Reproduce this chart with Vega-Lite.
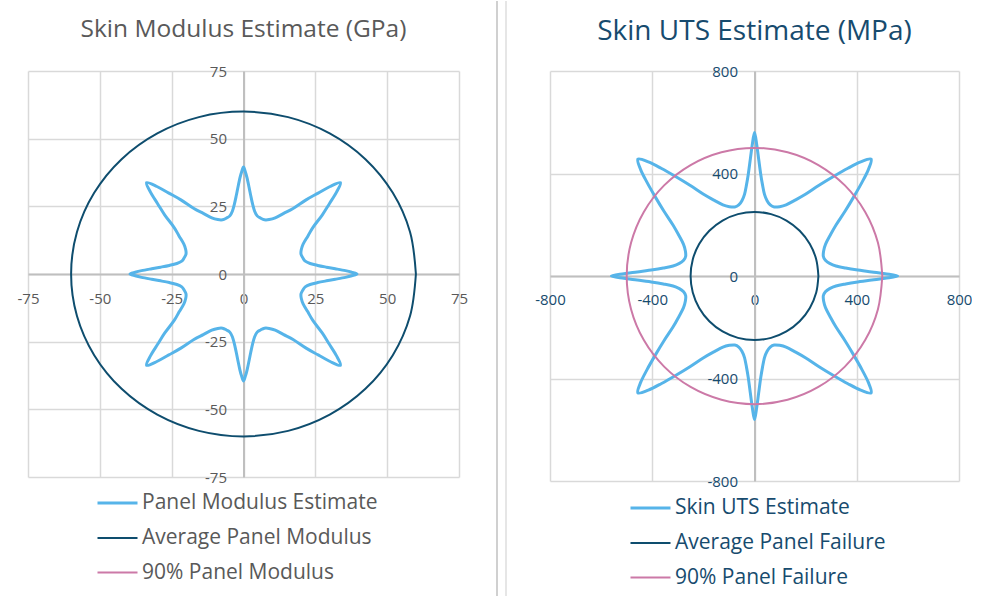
{
  "$schema": "https://vega.github.io/schema/vega-lite/v6.json",
  "background": "white",
  "padding": {"left": 17, "top": 0, "right": 0, "bottom": 0},
  "bounds": "flush",
  "spacing": 30,
  "config": {
    "view": {"stroke": null},
    "font": "Open Sans",
    "axis": {
      "labelFont": "Open Sans",
      "labelFontSize": 15,
      "grid": true,
      "gridColor": "#d9d9d9",
      "gridWidth": 1.5,
      "domainColor": "#bfbfbf",
      "domainWidth": 2,
      "ticks": false,
      "labelFlush": false,
      "labelOverlap": false,
      "labelExpr": "'' + datum.value",
      "title": null
    },
    "axisY": {"labelPadding": 17},
    "legend": {"labelFont": "Open Sans", "labelLimit": 0}
  },
  "datasets": {
    "modStar": [
      {"s":"Panel Modulus Estimate","i":1,"x":39.5,"y":0},
      {"s":"Panel Modulus Estimate","i":2,"x":37.69,"y":0.66},
      {"s":"Panel Modulus Estimate","i":3,"x":35.48,"y":1.24},
      {"s":"Panel Modulus Estimate","i":4,"x":31.94,"y":1.95},
      {"s":"Panel Modulus Estimate","i":5,"x":28.89,"y":2.53},
      {"s":"Panel Modulus Estimate","i":6,"x":25.81,"y":3.17},
      {"s":"Panel Modulus Estimate","i":7,"x":23.18,"y":3.88},
      {"s":"Panel Modulus Estimate","i":8,"x":21.48,"y":4.76},
      {"s":"Panel Modulus Estimate","i":9,"x":20.67,"y":5.93},
      {"s":"Panel Modulus Estimate","i":10,"x":20.02,"y":7.29},
      {"s":"Panel Modulus Estimate","i":11,"x":20.10,"y":8.95},
      {"s":"Panel Modulus Estimate","i":12,"x":20.75,"y":11.03},
      {"s":"Panel Modulus Estimate","i":13,"x":22.39,"y":13.99},
      {"s":"Panel Modulus Estimate","i":14,"x":24.18,"y":17.25},
      {"s":"Panel Modulus Estimate","i":15,"x":27.39,"y":21.79},
      {"s":"Panel Modulus Estimate","i":16,"x":29.89,"y":25.98},
      {"s":"Panel Modulus Estimate","i":17,"x":32.33,"y":30.15},
      {"s":"Panel Modulus Estimate","i":18,"x":33.73,"y":33.73},
      {"s":"Panel Modulus Estimate","i":19,"x":30.15,"y":32.33},
      {"s":"Panel Modulus Estimate","i":20,"x":25.98,"y":29.89},
      {"s":"Panel Modulus Estimate","i":21,"x":21.79,"y":27.39},
      {"s":"Panel Modulus Estimate","i":22,"x":17.25,"y":24.18},
      {"s":"Panel Modulus Estimate","i":23,"x":13.99,"y":22.39},
      {"s":"Panel Modulus Estimate","i":24,"x":11.03,"y":20.75},
      {"s":"Panel Modulus Estimate","i":25,"x":8.95,"y":20.10},
      {"s":"Panel Modulus Estimate","i":26,"x":7.29,"y":20.02},
      {"s":"Panel Modulus Estimate","i":27,"x":5.93,"y":20.67},
      {"s":"Panel Modulus Estimate","i":28,"x":4.76,"y":21.48},
      {"s":"Panel Modulus Estimate","i":29,"x":3.88,"y":23.18},
      {"s":"Panel Modulus Estimate","i":30,"x":3.17,"y":25.81},
      {"s":"Panel Modulus Estimate","i":31,"x":2.53,"y":28.89},
      {"s":"Panel Modulus Estimate","i":32,"x":1.95,"y":31.94},
      {"s":"Panel Modulus Estimate","i":33,"x":1.24,"y":35.48},
      {"s":"Panel Modulus Estimate","i":34,"x":0.66,"y":37.69},
      {"s":"Panel Modulus Estimate","i":35,"x":0,"y":39.5},
      {"s":"Panel Modulus Estimate","i":36,"x":-0.66,"y":37.69},
      {"s":"Panel Modulus Estimate","i":37,"x":-1.24,"y":35.48},
      {"s":"Panel Modulus Estimate","i":38,"x":-1.95,"y":31.94},
      {"s":"Panel Modulus Estimate","i":39,"x":-2.53,"y":28.89},
      {"s":"Panel Modulus Estimate","i":40,"x":-3.17,"y":25.81},
      {"s":"Panel Modulus Estimate","i":41,"x":-3.88,"y":23.18},
      {"s":"Panel Modulus Estimate","i":42,"x":-4.76,"y":21.48},
      {"s":"Panel Modulus Estimate","i":43,"x":-5.93,"y":20.67},
      {"s":"Panel Modulus Estimate","i":44,"x":-7.29,"y":20.02},
      {"s":"Panel Modulus Estimate","i":45,"x":-8.95,"y":20.10},
      {"s":"Panel Modulus Estimate","i":46,"x":-11.03,"y":20.75},
      {"s":"Panel Modulus Estimate","i":47,"x":-13.99,"y":22.39},
      {"s":"Panel Modulus Estimate","i":48,"x":-17.25,"y":24.18},
      {"s":"Panel Modulus Estimate","i":49,"x":-21.79,"y":27.39},
      {"s":"Panel Modulus Estimate","i":50,"x":-25.98,"y":29.89},
      {"s":"Panel Modulus Estimate","i":51,"x":-30.15,"y":32.33},
      {"s":"Panel Modulus Estimate","i":52,"x":-33.73,"y":33.73},
      {"s":"Panel Modulus Estimate","i":53,"x":-32.33,"y":30.15},
      {"s":"Panel Modulus Estimate","i":54,"x":-29.89,"y":25.98},
      {"s":"Panel Modulus Estimate","i":55,"x":-27.39,"y":21.79},
      {"s":"Panel Modulus Estimate","i":56,"x":-24.18,"y":17.25},
      {"s":"Panel Modulus Estimate","i":57,"x":-22.39,"y":13.99},
      {"s":"Panel Modulus Estimate","i":58,"x":-20.75,"y":11.03},
      {"s":"Panel Modulus Estimate","i":59,"x":-20.10,"y":8.95},
      {"s":"Panel Modulus Estimate","i":60,"x":-20.02,"y":7.29},
      {"s":"Panel Modulus Estimate","i":61,"x":-20.67,"y":5.93},
      {"s":"Panel Modulus Estimate","i":62,"x":-21.48,"y":4.76},
      {"s":"Panel Modulus Estimate","i":63,"x":-23.18,"y":3.88},
      {"s":"Panel Modulus Estimate","i":64,"x":-25.81,"y":3.17},
      {"s":"Panel Modulus Estimate","i":65,"x":-28.89,"y":2.53},
      {"s":"Panel Modulus Estimate","i":66,"x":-31.94,"y":1.95},
      {"s":"Panel Modulus Estimate","i":67,"x":-35.48,"y":1.24},
      {"s":"Panel Modulus Estimate","i":68,"x":-37.69,"y":0.66},
      {"s":"Panel Modulus Estimate","i":69,"x":-39.5,"y":0},
      {"s":"Panel Modulus Estimate","i":70,"x":-37.69,"y":-0.66},
      {"s":"Panel Modulus Estimate","i":71,"x":-35.48,"y":-1.24},
      {"s":"Panel Modulus Estimate","i":72,"x":-31.94,"y":-1.95},
      {"s":"Panel Modulus Estimate","i":73,"x":-28.89,"y":-2.53},
      {"s":"Panel Modulus Estimate","i":74,"x":-25.81,"y":-3.17},
      {"s":"Panel Modulus Estimate","i":75,"x":-23.18,"y":-3.88},
      {"s":"Panel Modulus Estimate","i":76,"x":-21.48,"y":-4.76},
      {"s":"Panel Modulus Estimate","i":77,"x":-20.67,"y":-5.93},
      {"s":"Panel Modulus Estimate","i":78,"x":-20.02,"y":-7.29},
      {"s":"Panel Modulus Estimate","i":79,"x":-20.10,"y":-8.95},
      {"s":"Panel Modulus Estimate","i":80,"x":-20.75,"y":-11.03},
      {"s":"Panel Modulus Estimate","i":81,"x":-22.39,"y":-13.99},
      {"s":"Panel Modulus Estimate","i":82,"x":-24.18,"y":-17.25},
      {"s":"Panel Modulus Estimate","i":83,"x":-27.39,"y":-21.79},
      {"s":"Panel Modulus Estimate","i":84,"x":-29.89,"y":-25.98},
      {"s":"Panel Modulus Estimate","i":85,"x":-32.33,"y":-30.15},
      {"s":"Panel Modulus Estimate","i":86,"x":-33.73,"y":-33.73},
      {"s":"Panel Modulus Estimate","i":87,"x":-30.15,"y":-32.33},
      {"s":"Panel Modulus Estimate","i":88,"x":-25.98,"y":-29.89},
      {"s":"Panel Modulus Estimate","i":89,"x":-21.79,"y":-27.39},
      {"s":"Panel Modulus Estimate","i":90,"x":-17.25,"y":-24.18},
      {"s":"Panel Modulus Estimate","i":91,"x":-13.99,"y":-22.39},
      {"s":"Panel Modulus Estimate","i":92,"x":-11.03,"y":-20.75},
      {"s":"Panel Modulus Estimate","i":93,"x":-8.95,"y":-20.10},
      {"s":"Panel Modulus Estimate","i":94,"x":-7.29,"y":-20.02},
      {"s":"Panel Modulus Estimate","i":95,"x":-5.93,"y":-20.67},
      {"s":"Panel Modulus Estimate","i":96,"x":-4.76,"y":-21.48},
      {"s":"Panel Modulus Estimate","i":97,"x":-3.88,"y":-23.18},
      {"s":"Panel Modulus Estimate","i":98,"x":-3.17,"y":-25.81},
      {"s":"Panel Modulus Estimate","i":99,"x":-2.53,"y":-28.89},
      {"s":"Panel Modulus Estimate","i":100,"x":-1.95,"y":-31.94},
      {"s":"Panel Modulus Estimate","i":101,"x":-1.24,"y":-35.48},
      {"s":"Panel Modulus Estimate","i":102,"x":-0.66,"y":-37.69},
      {"s":"Panel Modulus Estimate","i":103,"x":0,"y":-39.5},
      {"s":"Panel Modulus Estimate","i":104,"x":0.66,"y":-37.69},
      {"s":"Panel Modulus Estimate","i":105,"x":1.24,"y":-35.48},
      {"s":"Panel Modulus Estimate","i":106,"x":1.95,"y":-31.94},
      {"s":"Panel Modulus Estimate","i":107,"x":2.53,"y":-28.89},
      {"s":"Panel Modulus Estimate","i":108,"x":3.17,"y":-25.81},
      {"s":"Panel Modulus Estimate","i":109,"x":3.88,"y":-23.18},
      {"s":"Panel Modulus Estimate","i":110,"x":4.76,"y":-21.48},
      {"s":"Panel Modulus Estimate","i":111,"x":5.93,"y":-20.67},
      {"s":"Panel Modulus Estimate","i":112,"x":7.29,"y":-20.02},
      {"s":"Panel Modulus Estimate","i":113,"x":8.95,"y":-20.10},
      {"s":"Panel Modulus Estimate","i":114,"x":11.03,"y":-20.75},
      {"s":"Panel Modulus Estimate","i":115,"x":13.99,"y":-22.39},
      {"s":"Panel Modulus Estimate","i":116,"x":17.25,"y":-24.18},
      {"s":"Panel Modulus Estimate","i":117,"x":21.79,"y":-27.39},
      {"s":"Panel Modulus Estimate","i":118,"x":25.98,"y":-29.89},
      {"s":"Panel Modulus Estimate","i":119,"x":30.15,"y":-32.33},
      {"s":"Panel Modulus Estimate","i":120,"x":33.73,"y":-33.73},
      {"s":"Panel Modulus Estimate","i":121,"x":32.33,"y":-30.15},
      {"s":"Panel Modulus Estimate","i":122,"x":29.89,"y":-25.98},
      {"s":"Panel Modulus Estimate","i":123,"x":27.39,"y":-21.79},
      {"s":"Panel Modulus Estimate","i":124,"x":24.18,"y":-17.25},
      {"s":"Panel Modulus Estimate","i":125,"x":22.39,"y":-13.99},
      {"s":"Panel Modulus Estimate","i":126,"x":20.75,"y":-11.03},
      {"s":"Panel Modulus Estimate","i":127,"x":20.10,"y":-8.95},
      {"s":"Panel Modulus Estimate","i":128,"x":20.02,"y":-7.29},
      {"s":"Panel Modulus Estimate","i":129,"x":20.67,"y":-5.93},
      {"s":"Panel Modulus Estimate","i":130,"x":21.48,"y":-4.76},
      {"s":"Panel Modulus Estimate","i":131,"x":23.18,"y":-3.88},
      {"s":"Panel Modulus Estimate","i":132,"x":25.81,"y":-3.17},
      {"s":"Panel Modulus Estimate","i":133,"x":28.89,"y":-2.53},
      {"s":"Panel Modulus Estimate","i":134,"x":31.94,"y":-1.95},
      {"s":"Panel Modulus Estimate","i":135,"x":35.48,"y":-1.24},
      {"s":"Panel Modulus Estimate","i":136,"x":37.69,"y":-0.66}
    ],
    "modCircle": [
      {"s":"Average Panel Modulus","i":0,"x":60,"y":0},
      {"s":"Average Panel Modulus","i":1,"x":57.96,"y":15.53},
      {"s":"Average Panel Modulus","i":2,"x":51.96,"y":30},
      {"s":"Average Panel Modulus","i":3,"x":42.43,"y":42.43},
      {"s":"Average Panel Modulus","i":4,"x":30,"y":51.96},
      {"s":"Average Panel Modulus","i":5,"x":15.53,"y":57.96},
      {"s":"Average Panel Modulus","i":6,"x":0,"y":60},
      {"s":"Average Panel Modulus","i":7,"x":-15.53,"y":57.96},
      {"s":"Average Panel Modulus","i":8,"x":-30,"y":51.96},
      {"s":"Average Panel Modulus","i":9,"x":-42.43,"y":42.43},
      {"s":"Average Panel Modulus","i":10,"x":-51.96,"y":30},
      {"s":"Average Panel Modulus","i":11,"x":-57.96,"y":15.53},
      {"s":"Average Panel Modulus","i":12,"x":-60,"y":0},
      {"s":"Average Panel Modulus","i":13,"x":-57.96,"y":-15.53},
      {"s":"Average Panel Modulus","i":14,"x":-51.96,"y":-30},
      {"s":"Average Panel Modulus","i":15,"x":-42.43,"y":-42.43},
      {"s":"Average Panel Modulus","i":16,"x":-30,"y":-51.96},
      {"s":"Average Panel Modulus","i":17,"x":-15.53,"y":-57.96},
      {"s":"Average Panel Modulus","i":18,"x":0,"y":-60},
      {"s":"Average Panel Modulus","i":19,"x":15.53,"y":-57.96},
      {"s":"Average Panel Modulus","i":20,"x":30,"y":-51.96},
      {"s":"Average Panel Modulus","i":21,"x":42.43,"y":-42.43},
      {"s":"Average Panel Modulus","i":22,"x":51.96,"y":-30},
      {"s":"Average Panel Modulus","i":23,"x":57.96,"y":-15.53},
      {"s":"Average Panel Modulus","i":24,"x":60,"y":0},
      {"s":"90% Panel Modulus","i":0,"x":0,"y":0},
      {"s":"90% Panel Modulus","i":1,"x":0,"y":0}
    ],
    "utsStar": [
      {"s":"Skin UTS Estimate","i":1,"x":560,"y":0},
      {"s":"Skin UTS Estimate","i":2,"x":510.9,"y":8.9},
      {"s":"Skin UTS Estimate","i":3,"x":458.7,"y":16.0},
      {"s":"Skin UTS Estimate","i":4,"x":397.3,"y":24.3},
      {"s":"Skin UTS Estimate","i":5,"x":356.6,"y":31.2},
      {"s":"Skin UTS Estimate","i":6,"x":318.6,"y":39.1},
      {"s":"Skin UTS Estimate","i":7,"x":293.9,"y":49.2},
      {"s":"Skin UTS Estimate","i":8,"x":277.3,"y":61.5},
      {"s":"Skin UTS Estimate","i":9,"x":269.2,"y":77.2},
      {"s":"Skin UTS Estimate","i":10,"x":270.6,"y":98.5},
      {"s":"Skin UTS Estimate","i":11,"x":277.7,"y":123.6},
      {"s":"Skin UTS Estimate","i":12,"x":294.9,"y":156.8},
      {"s":"Skin UTS Estimate","i":13,"x":318.9,"y":199.2},
      {"s":"Skin UTS Estimate","i":14,"x":354.1,"y":252.6},
      {"s":"Skin UTS Estimate","i":15,"x":388.2,"y":308.8},
      {"s":"Skin UTS Estimate","i":16,"x":420.4,"y":365.4},
      {"s":"Skin UTS Estimate","i":17,"x":445.4,"y":415.3},
      {"s":"Skin UTS Estimate","i":18,"x":456.1,"y":456.1},
      {"s":"Skin UTS Estimate","i":19,"x":415.3,"y":445.4},
      {"s":"Skin UTS Estimate","i":20,"x":365.4,"y":420.4},
      {"s":"Skin UTS Estimate","i":21,"x":308.8,"y":388.2},
      {"s":"Skin UTS Estimate","i":22,"x":252.6,"y":354.1},
      {"s":"Skin UTS Estimate","i":23,"x":199.2,"y":318.9},
      {"s":"Skin UTS Estimate","i":24,"x":156.8,"y":294.9},
      {"s":"Skin UTS Estimate","i":25,"x":123.6,"y":277.7},
      {"s":"Skin UTS Estimate","i":26,"x":98.5,"y":270.6},
      {"s":"Skin UTS Estimate","i":27,"x":77.2,"y":269.2},
      {"s":"Skin UTS Estimate","i":28,"x":61.5,"y":277.3},
      {"s":"Skin UTS Estimate","i":29,"x":49.2,"y":293.9},
      {"s":"Skin UTS Estimate","i":30,"x":39.1,"y":318.6},
      {"s":"Skin UTS Estimate","i":31,"x":31.2,"y":356.6},
      {"s":"Skin UTS Estimate","i":32,"x":24.3,"y":397.3},
      {"s":"Skin UTS Estimate","i":33,"x":16.0,"y":458.7},
      {"s":"Skin UTS Estimate","i":34,"x":8.9,"y":510.9},
      {"s":"Skin UTS Estimate","i":35,"x":0,"y":560},
      {"s":"Skin UTS Estimate","i":36,"x":-8.9,"y":510.9},
      {"s":"Skin UTS Estimate","i":37,"x":-16.0,"y":458.7},
      {"s":"Skin UTS Estimate","i":38,"x":-24.3,"y":397.3},
      {"s":"Skin UTS Estimate","i":39,"x":-31.2,"y":356.6},
      {"s":"Skin UTS Estimate","i":40,"x":-39.1,"y":318.6},
      {"s":"Skin UTS Estimate","i":41,"x":-49.2,"y":293.9},
      {"s":"Skin UTS Estimate","i":42,"x":-61.5,"y":277.3},
      {"s":"Skin UTS Estimate","i":43,"x":-77.2,"y":269.2},
      {"s":"Skin UTS Estimate","i":44,"x":-98.5,"y":270.6},
      {"s":"Skin UTS Estimate","i":45,"x":-123.6,"y":277.7},
      {"s":"Skin UTS Estimate","i":46,"x":-156.8,"y":294.9},
      {"s":"Skin UTS Estimate","i":47,"x":-199.2,"y":318.9},
      {"s":"Skin UTS Estimate","i":48,"x":-252.6,"y":354.1},
      {"s":"Skin UTS Estimate","i":49,"x":-308.8,"y":388.2},
      {"s":"Skin UTS Estimate","i":50,"x":-365.4,"y":420.4},
      {"s":"Skin UTS Estimate","i":51,"x":-415.3,"y":445.4},
      {"s":"Skin UTS Estimate","i":52,"x":-456.1,"y":456.1},
      {"s":"Skin UTS Estimate","i":53,"x":-445.4,"y":415.3},
      {"s":"Skin UTS Estimate","i":54,"x":-420.4,"y":365.4},
      {"s":"Skin UTS Estimate","i":55,"x":-388.2,"y":308.8},
      {"s":"Skin UTS Estimate","i":56,"x":-354.1,"y":252.6},
      {"s":"Skin UTS Estimate","i":57,"x":-318.9,"y":199.2},
      {"s":"Skin UTS Estimate","i":58,"x":-294.9,"y":156.8},
      {"s":"Skin UTS Estimate","i":59,"x":-277.7,"y":123.6},
      {"s":"Skin UTS Estimate","i":60,"x":-270.6,"y":98.5},
      {"s":"Skin UTS Estimate","i":61,"x":-269.2,"y":77.2},
      {"s":"Skin UTS Estimate","i":62,"x":-277.3,"y":61.5},
      {"s":"Skin UTS Estimate","i":63,"x":-293.9,"y":49.2},
      {"s":"Skin UTS Estimate","i":64,"x":-318.6,"y":39.1},
      {"s":"Skin UTS Estimate","i":65,"x":-356.6,"y":31.2},
      {"s":"Skin UTS Estimate","i":66,"x":-397.3,"y":24.3},
      {"s":"Skin UTS Estimate","i":67,"x":-458.7,"y":16.0},
      {"s":"Skin UTS Estimate","i":68,"x":-510.9,"y":8.9},
      {"s":"Skin UTS Estimate","i":69,"x":-560,"y":0},
      {"s":"Skin UTS Estimate","i":70,"x":-510.9,"y":-8.9},
      {"s":"Skin UTS Estimate","i":71,"x":-458.7,"y":-16.0},
      {"s":"Skin UTS Estimate","i":72,"x":-397.3,"y":-24.3},
      {"s":"Skin UTS Estimate","i":73,"x":-356.6,"y":-31.2},
      {"s":"Skin UTS Estimate","i":74,"x":-318.6,"y":-39.1},
      {"s":"Skin UTS Estimate","i":75,"x":-293.9,"y":-49.2},
      {"s":"Skin UTS Estimate","i":76,"x":-277.3,"y":-61.5},
      {"s":"Skin UTS Estimate","i":77,"x":-269.2,"y":-77.2},
      {"s":"Skin UTS Estimate","i":78,"x":-270.6,"y":-98.5},
      {"s":"Skin UTS Estimate","i":79,"x":-277.7,"y":-123.6},
      {"s":"Skin UTS Estimate","i":80,"x":-294.9,"y":-156.8},
      {"s":"Skin UTS Estimate","i":81,"x":-318.9,"y":-199.2},
      {"s":"Skin UTS Estimate","i":82,"x":-354.1,"y":-252.6},
      {"s":"Skin UTS Estimate","i":83,"x":-388.2,"y":-308.8},
      {"s":"Skin UTS Estimate","i":84,"x":-420.4,"y":-365.4},
      {"s":"Skin UTS Estimate","i":85,"x":-445.4,"y":-415.3},
      {"s":"Skin UTS Estimate","i":86,"x":-456.1,"y":-456.1},
      {"s":"Skin UTS Estimate","i":87,"x":-415.3,"y":-445.4},
      {"s":"Skin UTS Estimate","i":88,"x":-365.4,"y":-420.4},
      {"s":"Skin UTS Estimate","i":89,"x":-308.8,"y":-388.2},
      {"s":"Skin UTS Estimate","i":90,"x":-252.6,"y":-354.1},
      {"s":"Skin UTS Estimate","i":91,"x":-199.2,"y":-318.9},
      {"s":"Skin UTS Estimate","i":92,"x":-156.8,"y":-294.9},
      {"s":"Skin UTS Estimate","i":93,"x":-123.6,"y":-277.7},
      {"s":"Skin UTS Estimate","i":94,"x":-98.5,"y":-270.6},
      {"s":"Skin UTS Estimate","i":95,"x":-77.2,"y":-269.2},
      {"s":"Skin UTS Estimate","i":96,"x":-61.5,"y":-277.3},
      {"s":"Skin UTS Estimate","i":97,"x":-49.2,"y":-293.9},
      {"s":"Skin UTS Estimate","i":98,"x":-39.1,"y":-318.6},
      {"s":"Skin UTS Estimate","i":99,"x":-31.2,"y":-356.6},
      {"s":"Skin UTS Estimate","i":100,"x":-24.3,"y":-397.3},
      {"s":"Skin UTS Estimate","i":101,"x":-16.0,"y":-458.7},
      {"s":"Skin UTS Estimate","i":102,"x":-8.9,"y":-510.9},
      {"s":"Skin UTS Estimate","i":103,"x":0,"y":-560},
      {"s":"Skin UTS Estimate","i":104,"x":8.9,"y":-510.9},
      {"s":"Skin UTS Estimate","i":105,"x":16.0,"y":-458.7},
      {"s":"Skin UTS Estimate","i":106,"x":24.3,"y":-397.3},
      {"s":"Skin UTS Estimate","i":107,"x":31.2,"y":-356.6},
      {"s":"Skin UTS Estimate","i":108,"x":39.1,"y":-318.6},
      {"s":"Skin UTS Estimate","i":109,"x":49.2,"y":-293.9},
      {"s":"Skin UTS Estimate","i":110,"x":61.5,"y":-277.3},
      {"s":"Skin UTS Estimate","i":111,"x":77.2,"y":-269.2},
      {"s":"Skin UTS Estimate","i":112,"x":98.5,"y":-270.6},
      {"s":"Skin UTS Estimate","i":113,"x":123.6,"y":-277.7},
      {"s":"Skin UTS Estimate","i":114,"x":156.8,"y":-294.9},
      {"s":"Skin UTS Estimate","i":115,"x":199.2,"y":-318.9},
      {"s":"Skin UTS Estimate","i":116,"x":252.6,"y":-354.1},
      {"s":"Skin UTS Estimate","i":117,"x":308.8,"y":-388.2},
      {"s":"Skin UTS Estimate","i":118,"x":365.4,"y":-420.4},
      {"s":"Skin UTS Estimate","i":119,"x":415.3,"y":-445.4},
      {"s":"Skin UTS Estimate","i":120,"x":456.1,"y":-456.1},
      {"s":"Skin UTS Estimate","i":121,"x":445.4,"y":-415.3},
      {"s":"Skin UTS Estimate","i":122,"x":420.4,"y":-365.4},
      {"s":"Skin UTS Estimate","i":123,"x":388.2,"y":-308.8},
      {"s":"Skin UTS Estimate","i":124,"x":354.1,"y":-252.6},
      {"s":"Skin UTS Estimate","i":125,"x":318.9,"y":-199.2},
      {"s":"Skin UTS Estimate","i":126,"x":294.9,"y":-156.8},
      {"s":"Skin UTS Estimate","i":127,"x":277.7,"y":-123.6},
      {"s":"Skin UTS Estimate","i":128,"x":270.6,"y":-98.5},
      {"s":"Skin UTS Estimate","i":129,"x":269.2,"y":-77.2},
      {"s":"Skin UTS Estimate","i":130,"x":277.3,"y":-61.5},
      {"s":"Skin UTS Estimate","i":131,"x":293.9,"y":-49.2},
      {"s":"Skin UTS Estimate","i":132,"x":318.6,"y":-39.1},
      {"s":"Skin UTS Estimate","i":133,"x":356.6,"y":-31.2},
      {"s":"Skin UTS Estimate","i":134,"x":397.3,"y":-24.3},
      {"s":"Skin UTS Estimate","i":135,"x":458.7,"y":-16.0},
      {"s":"Skin UTS Estimate","i":136,"x":510.9,"y":-8.9}
    ],
    "utsCircle": [
      {"s":"Average Panel Failure","i":0,"x":250,"y":0},
      {"s":"Average Panel Failure","i":1,"x":241.48,"y":64.70},
      {"s":"Average Panel Failure","i":2,"x":216.51,"y":125},
      {"s":"Average Panel Failure","i":3,"x":176.78,"y":176.78},
      {"s":"Average Panel Failure","i":4,"x":125,"y":216.51},
      {"s":"Average Panel Failure","i":5,"x":64.70,"y":241.48},
      {"s":"Average Panel Failure","i":6,"x":0,"y":250},
      {"s":"Average Panel Failure","i":7,"x":-64.70,"y":241.48},
      {"s":"Average Panel Failure","i":8,"x":-125,"y":216.51},
      {"s":"Average Panel Failure","i":9,"x":-176.78,"y":176.78},
      {"s":"Average Panel Failure","i":10,"x":-216.51,"y":125},
      {"s":"Average Panel Failure","i":11,"x":-241.48,"y":64.70},
      {"s":"Average Panel Failure","i":12,"x":-250,"y":0},
      {"s":"Average Panel Failure","i":13,"x":-241.48,"y":-64.70},
      {"s":"Average Panel Failure","i":14,"x":-216.51,"y":-125},
      {"s":"Average Panel Failure","i":15,"x":-176.78,"y":-176.78},
      {"s":"Average Panel Failure","i":16,"x":-125,"y":-216.51},
      {"s":"Average Panel Failure","i":17,"x":-64.70,"y":-241.48},
      {"s":"Average Panel Failure","i":18,"x":0,"y":-250},
      {"s":"Average Panel Failure","i":19,"x":64.70,"y":-241.48},
      {"s":"Average Panel Failure","i":20,"x":125,"y":-216.51},
      {"s":"Average Panel Failure","i":21,"x":176.78,"y":-176.78},
      {"s":"Average Panel Failure","i":22,"x":216.51,"y":-125},
      {"s":"Average Panel Failure","i":23,"x":241.48,"y":-64.70},
      {"s":"Average Panel Failure","i":24,"x":250,"y":0},
      {"s":"90% Panel Failure","i":0,"x":500,"y":0},
      {"s":"90% Panel Failure","i":1,"x":482.96,"y":129.41},
      {"s":"90% Panel Failure","i":2,"x":433.01,"y":250},
      {"s":"90% Panel Failure","i":3,"x":353.55,"y":353.55},
      {"s":"90% Panel Failure","i":4,"x":250,"y":433.01},
      {"s":"90% Panel Failure","i":5,"x":129.41,"y":482.96},
      {"s":"90% Panel Failure","i":6,"x":0,"y":500},
      {"s":"90% Panel Failure","i":7,"x":-129.41,"y":482.96},
      {"s":"90% Panel Failure","i":8,"x":-250,"y":433.01},
      {"s":"90% Panel Failure","i":9,"x":-353.55,"y":353.55},
      {"s":"90% Panel Failure","i":10,"x":-433.01,"y":250},
      {"s":"90% Panel Failure","i":11,"x":-482.96,"y":129.41},
      {"s":"90% Panel Failure","i":12,"x":-500,"y":0},
      {"s":"90% Panel Failure","i":13,"x":-482.96,"y":-129.41},
      {"s":"90% Panel Failure","i":14,"x":-433.01,"y":-250},
      {"s":"90% Panel Failure","i":15,"x":-353.55,"y":-353.55},
      {"s":"90% Panel Failure","i":16,"x":-250,"y":-433.01},
      {"s":"90% Panel Failure","i":17,"x":-129.41,"y":-482.96},
      {"s":"90% Panel Failure","i":18,"x":0,"y":-500},
      {"s":"90% Panel Failure","i":19,"x":129.41,"y":-482.96},
      {"s":"90% Panel Failure","i":20,"x":250,"y":-433.01},
      {"s":"90% Panel Failure","i":21,"x":353.55,"y":-353.55},
      {"s":"90% Panel Failure","i":22,"x":433.01,"y":-250},
      {"s":"90% Panel Failure","i":23,"x":482.96,"y":-129.41},
      {"s":"90% Panel Failure","i":24,"x":500,"y":0}
    ]
  },
  "hconcat": [
    {
      "width": 431,
      "height": 406,
      "title": {"text": "Skin Modulus Estimate (GPa)", "font": "Open Sans", "fontSize": 24.5, "fontWeight": "normal", "color": "#595959", "offset": 22},
      "encoding": {
        "x": {"field": "x", "type": "quantitative", "scale": {"domain": [-75, 75], "nice": false, "zero": false},
              "axis": {"values": [-75, -50, -25, 0, 25, 50, 75], "offset": -203, "labelColor": "#595959", "labelPadding": 17}},
        "y": {"field": "y", "type": "quantitative", "scale": {"domain": [-75, 75], "nice": false, "zero": false},
              "axis": {"values": [-75, -50, -25, 0, 25, 50, 75], "offset": -215.5, "labelColor": "#595959"}}
      },
      "layer": [
        {
          "data": {"name": "modStar"},
          "mark": {"type": "line", "interpolate": "cardinal-closed"},
          "encoding": {
            "order": {"field": "i", "type": "quantitative"},
            "color": {"field": "s", "type": "nominal",
                      "scale": {"domain": ["Panel Modulus Estimate", "Average Panel Modulus", "90% Panel Modulus"], "range": ["#56B4E9", "#0E4D6E", "#CC79A7"]},
                      "legend": {"orient": "none", "legendX": 68, "legendY": 410.5, "title": null, "padding": 0, "symbolType": "stroke", "symbolSize": 1600, "labelFontSize": 21, "labelColor": "#595959", "labelOffset": 3, "rowPadding": 3.5, "labelLimit": 0}},
            "strokeWidth": {"field": "s", "type": "nominal",
                      "scale": {"type": "ordinal", "domain": ["Panel Modulus Estimate", "Average Panel Modulus", "90% Panel Modulus"], "range": [3, 2, 2]},
                      "legend": {"orient": "none", "legendX": 68, "legendY": 410.5, "title": null, "padding": 0, "symbolType": "stroke", "symbolSize": 1600, "labelFontSize": 21, "labelColor": "#595959", "labelOffset": 3, "rowPadding": 3.5, "labelLimit": 0}}
          }
        },
        {
          "data": {"name": "modCircle"},
          "mark": {"type": "line", "interpolate": "cardinal"},
          "encoding": {
            "order": {"field": "i", "type": "quantitative"},
            "color": {"field": "s", "type": "nominal",
                      "scale": {"domain": ["Panel Modulus Estimate", "Average Panel Modulus", "90% Panel Modulus"], "range": ["#56B4E9", "#0E4D6E", "#CC79A7"]}},
            "strokeWidth": {"field": "s", "type": "nominal",
                      "scale": {"type": "ordinal", "domain": ["Panel Modulus Estimate", "Average Panel Modulus", "90% Panel Modulus"], "range": [3, 2, 2]}}
          }
        }
      ]
    },
    {
      "width": 31,
      "height": 406,
      "encoding": {
        "x": {"field": "x", "type": "quantitative", "scale": {"domain": [0, 31], "nice": false, "zero": false}, "axis": null},
        "y": {"field": "y", "type": "quantitative", "scale": {"domain": [0, 406], "nice": false, "zero": false}, "axis": null},
        "y2": {"field": "y2"}
      },
      "layer": [
        {
          "data": {"values": [{"x": 8, "y": 476, "y2": -120}]},
          "mark": {"type": "rule", "color": "#d0d0d0", "strokeWidth": 2, "clip": false}
        },
        {
          "data": {"values": [{"x": 17, "y": 476, "y2": -120}]},
          "mark": {"type": "rule", "color": "#e6e6e6", "strokeWidth": 2, "clip": false}
        }
      ]
    },
    {
      "width": 409,
      "height": 410,
      "title": {"text": "Skin UTS Estimate (MPa)", "font": "Open Sans", "fontSize": 28, "fontWeight": "normal", "color": "#174B6E", "offset": 18.5},
      "encoding": {
        "x": {"field": "x", "type": "quantitative", "scale": {"domain": [-800, 800], "nice": false, "zero": false},
              "axis": {"values": [-800, -400, 0, 400, 800], "offset": -205, "labelColor": "#174B6E", "labelPadding": 16}},
        "y": {"field": "y", "type": "quantitative", "scale": {"domain": [-800, 800], "nice": false, "zero": false},
              "axis": {"values": [-800, -400, 0, 400, 800], "offset": -204.5, "labelColor": "#174B6E"}}
      },
      "layer": [
        {
          "data": {"name": "utsStar"},
          "mark": {"type": "line", "interpolate": "cardinal-closed"},
          "encoding": {
            "order": {"field": "i", "type": "quantitative"},
            "color": {"field": "s", "type": "nominal",
                      "scale": {"domain": ["Skin UTS Estimate", "Average Panel Failure", "90% Panel Failure"], "range": ["#56B4E9", "#0E4D6E", "#CC79A7"]},
                      "legend": {"orient": "none", "legendX": 79, "legendY": 415.5, "title": null, "padding": 0, "symbolType": "stroke", "symbolSize": 1600, "labelFontSize": 21, "labelColor": "#174B6E", "labelOffset": 3, "rowPadding": 3.5, "labelLimit": 0}},
            "strokeWidth": {"field": "s", "type": "nominal",
                      "scale": {"type": "ordinal", "domain": ["Skin UTS Estimate", "Average Panel Failure", "90% Panel Failure"], "range": [3, 2, 2]},
                      "legend": {"orient": "none", "legendX": 79, "legendY": 415.5, "title": null, "padding": 0, "symbolType": "stroke", "symbolSize": 1600, "labelFontSize": 21, "labelColor": "#174B6E", "labelOffset": 3, "rowPadding": 3.5, "labelLimit": 0}}
          }
        },
        {
          "data": {"name": "utsCircle"},
          "mark": {"type": "line", "interpolate": "cardinal"},
          "encoding": {
            "order": {"field": "i", "type": "quantitative"},
            "color": {"field": "s", "type": "nominal",
                      "scale": {"domain": ["Skin UTS Estimate", "Average Panel Failure", "90% Panel Failure"], "range": ["#56B4E9", "#0E4D6E", "#CC79A7"]}},
            "strokeWidth": {"field": "s", "type": "nominal",
                      "scale": {"type": "ordinal", "domain": ["Skin UTS Estimate", "Average Panel Failure", "90% Panel Failure"], "range": [3, 2, 2]}}
          }
        }
      ]
    }
  ],
  "resolve": {"scale": {"color": "independent", "strokeWidth": "independent"}, "legend": {"color": "independent", "strokeWidth": "independent"}}
}
